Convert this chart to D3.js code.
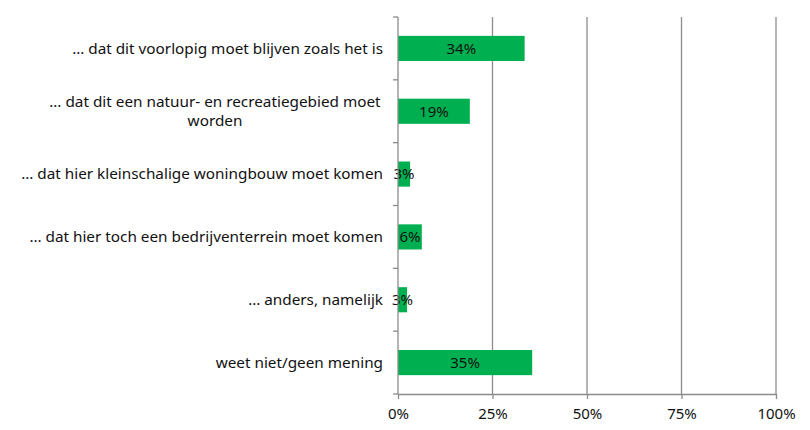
<!DOCTYPE html>
<html lang="en">
<head>
    <meta charset="UTF-8">
    <title>Toekomst gebied</title>
    <script src="https://d3js.org/d3.v7.min.js"></script>
    <style>
        body { margin: 0; background: #fff; }
        text { font-family: "Noto Sans", "Open Sans", sans-serif; fill: #111; }
    </style>
</head>
<body>
    <svg id="chart" width="810" height="430"></svg>

    <script>
        // Data
        const categories = [
            ["… dat dit voorlopig moet blijven zoals het is"],
            ["… dat dit een natuur- en recreatiegebied moet", "worden"],
            ["… dat hier kleinschalige woningbouw moet komen"],
            ["… dat hier toch een bedrijventerrein moet komen"],
            ["… anders, namelijk"],
            ["weet niet/geen mening"]
        ];
        const values = [33.5, 19.0, 3.2, 6.3, 2.4, 35.5];
        const valueLabels = ["34%", "19%", "3%", "6%", "3%", "35%"];
        const tickValues = [0, 25, 50, 75, 100];

        const svg = d3.select("#chart");
        const plotLeft = 398, plotRight = 776, plotTop = 17, plotBottom = 394;

        const x = d3.scaleLinear().domain([0, 100]).range([plotLeft, plotRight]);
        const y = d3.scaleBand()
            .domain(d3.range(categories.length))
            .range([plotTop, plotBottom])
            .paddingInner(0.6)
            .paddingOuter(0.3);

        // gridlines
        svg.append("g")
            .selectAll("line")
            .data(tickValues.slice(1))
            .enter()
            .append("line")
            .attr("x1", d => x(d)).attr("x2", d => x(d))
            .attr("y1", plotTop).attr("y2", plotBottom)
            .attr("stroke", "#8c8c8c")
            .attr("stroke-width", 1.3);

        // bars
        svg.append("g")
            .selectAll("rect")
            .data(values)
            .enter()
            .append("rect")
            .attr("x", x(0))
            .attr("y", (d, i) => y(i))
            .attr("width", d => x(d) - x(0))
            .attr("height", y.bandwidth())
            .attr("fill", "#00b050");

        // value labels
        svg.append("g")
            .selectAll("text")
            .data(values)
            .enter()
            .append("text")
            .attr("x", d => (x(0) + x(d)) / 2)
            .attr("y", (d, i) => y(i) + y.bandwidth() / 2)
            .attr("dy", "0.35em")
            .attr("text-anchor", "middle")
            .attr("font-size", "15px")
            .text((d, i) => valueLabels[i]);

        // x axis
        const xAxis = svg.append("g")
            .attr("transform", "translate(0," + plotBottom + ")")
            .call(d3.axisBottom(x).tickValues(tickValues).tickFormat(d => d + "%").tickSizeInner(5).tickSizeOuter(0).tickPadding(9));
        xAxis.select(".domain").attr("stroke", "#8c8c8c").attr("stroke-width", 1.3);
        xAxis.selectAll(".tick line").attr("stroke", "#8c8c8c").attr("stroke-width", 1.3);
        xAxis.selectAll(".tick text").attr("font-size", "15px").attr("font-family", "Noto Sans").attr("fill", "#111");

        // y axis line and category ticks
        const yBands = d3.scaleLinear().domain([0, categories.length]).range([plotTop, plotBottom]);
        svg.append("line")
            .attr("x1", plotLeft).attr("x2", plotLeft)
            .attr("y1", plotTop).attr("y2", plotBottom)
            .attr("stroke", "#8c8c8c").attr("stroke-width", 1.3);
        svg.append("g")
            .selectAll("line")
            .data(d3.range(categories.length + 1))
            .enter()
            .append("line")
            .attr("x1", plotLeft - 5).attr("x2", plotLeft)
            .attr("y1", d => yBands(d)).attr("y2", d => yBands(d))
            .attr("stroke", "#8c8c8c").attr("stroke-width", 1.3);

        // category labels
        const labels = svg.append("g")
            .selectAll("text")
            .data(categories)
            .enter()
            .append("text")
            .attr("font-size", "15.3px")
            .attr("text-anchor", d => d.length > 1 ? "middle" : "end")
            .attr("x", d => d.length > 1 ? 215 : 383)
            .attr("y", (d, i) => y(i) + y.bandwidth() / 2 - (d.length - 1) * 10);
        labels.selectAll("tspan")
            .data(d => d)
            .enter()
            .append("tspan")
            .attr("x", function () { return d3.select(this.parentNode).attr("x"); })
            .attr("dy", (d, i) => i === 0 ? "0.35em" : "1.3em")
            .text(d => d);
    </script>
</body>
</html>
